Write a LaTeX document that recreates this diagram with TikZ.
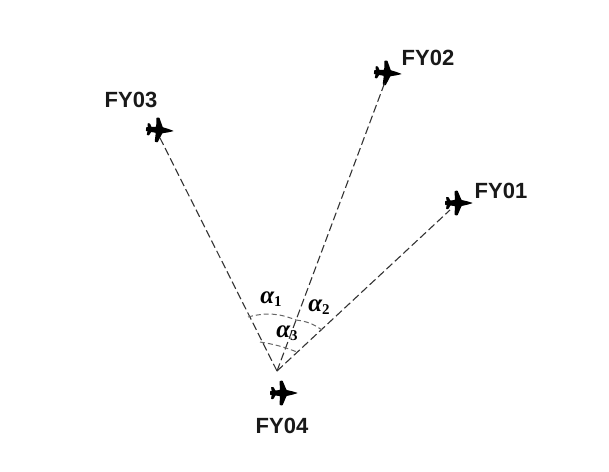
\documentclass[tikz,border=0pt]{standalone}
\usepackage{fontspec}
\setmainfont{Liberation Sans}
\newfontfamily\greekfont{Liberation Serif}
\newcommand{\alab}[1]{{\greekfont\bfseries\itshape\fontsize{25}{28}\selectfont α\raisebox{-3.5pt}{\upshape\fontsize{15}{16}\selectfont #1}}}
\tikzset{
  x=1pt,y=-1pt,
  lbl/.style={font=\fontsize{22}{24}\selectfont\bfseries,inner sep=0pt,text=black!90},
  alabel/.style={inner sep=0pt},
  sight/.style={draw=black!80,dash pattern=on 8pt off 3.5pt,line width=1.1pt},
  arcline/.style={draw=black!60,dash pattern=on 5pt off 3pt,line width=1pt},
  plane/.pic={
    \fill[black,rounded corners=0.6pt] (-13,-2) -- (-3,-3) -- (-3.5,-12) -- (-0.5,-12.5) -- (3.5,-3)
      -- (9,-1.8) -- (15,0) -- (9,1.8) -- (3.5,3) -- (-0.5,12.5) -- (-3.5,12) -- (-3,3) -- (-13,2) -- cycle;
    \fill[black,rounded corners=0.6pt] (-12,-6) -- (-9.5,-6) -- (-7,-1) -- (-7,1) -- (-9.5,6) -- (-12,6) -- (-11,0) -- cycle;
  }
}
\begin{document}
\begin{tikzpicture}
\useasboundingbox (0,0) rectangle (609,471);
\coordinate (o) at (277,371);
\coordinate (a) at (450,210);
\coordinate (b) at (385,82);
\coordinate (c) at (160,138);
\pic at (458,203) {plane};
\pic[rotate=-4] at (387,73) {plane};
\pic[rotate=-4] at (159,130) {plane};
\pic at (283,393) {plane};
\draw[sight] (o) -- (a);
\draw[sight] (o) -- (b);
\draw[sight] (o) -- (c);
\coordinate (a1s) at (248,317);
\coordinate (a1e) at (296,320);
\coordinate (a2e) at (322,330);
\coordinate (a3s) at (260,342);
\coordinate (a3e) at (297,352);
\draw[arcline] (a1s) to[bend left=18] (a1e);
\draw[arcline] (a1e) to[bend left=14] (a2e);
\draw[arcline] (a3s) to[bend left=6] (a3e);
\node[lbl] (n1) at (501,191) {FY01};
\node[lbl] (n2) at (428,58) {FY02};
\node[lbl] (n3) at (131,100) {FY03};
\node[lbl] (n4) at (282,426) {FY04};
\node[alabel] (al1) at (271,299) {\alab{1}};
\node[alabel] (al2) at (319,307) {\alab{2}};
\node[alabel] (al3) at (287,333) {\alab{3}};
\end{tikzpicture}
\end{document}
